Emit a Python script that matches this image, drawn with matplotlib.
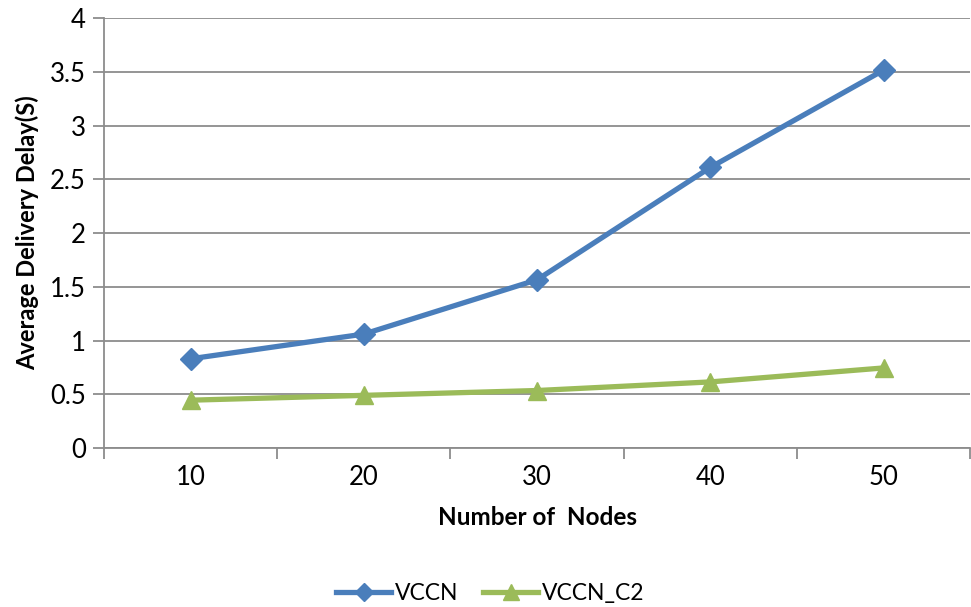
import matplotlib.pyplot as plt
import numpy as np

plt.rcParams['font.family'] = ['Lato', 'DejaVu Sans']

nodes = ['10', '20', '30', '40', '50']
vccn = [0.83, 1.06, 1.565, 2.61, 3.515]
vccn_c2 = [0.445, 0.49, 0.535, 0.615, 0.745]

blue = '#4A7EBB'
green = '#9BBB59'
grid_col = '#8C8C8C'

fig = plt.figure(figsize=(9.71, 6.07), dpi=100)
ax = fig.add_axes([0.1071, 0.2619, 0.892, 0.7084])

x = np.arange(len(nodes))
ax.plot(x, vccn, color=blue, lw=3.8, marker='D', ms=11, label='VCCN')
ax.plot(x, vccn_c2, color=green, lw=3.8, marker='^', ms=13, label='VCCN_C2')

ax.set_ylim(0, 4)
ax.set_yticks(np.arange(0, 4.01, 0.5))
ax.set_yticklabels(['0', '0.5', '1', '1.5', '2', '2.5', '3', '3.5', '4'])
ax.yaxis.grid(True, color=grid_col, lw=1.3)
ax.set_axisbelow(True)

# category axis: ticks between categories, labels at centers
ax.set_xlim(-0.5, len(nodes) - 0.5)
ax.set_xticks(np.arange(-0.5, len(nodes)))
ax.set_xticklabels([])
ax.set_xticks(x, minor=True)
ax.set_xticklabels(nodes, minor=True)
ax.tick_params(axis='x', which='minor', length=0, pad=12, labelsize=18.5)
ax.tick_params(axis='x', which='major', length=8, width=1.3, color=grid_col)
ax.tick_params(axis='y', length=8, width=1.3, color=grid_col, labelsize=18.5, pad=5)

for side in ['top', 'right']:
    ax.spines[side].set_visible(False)
for side in ['left', 'bottom']:
    ax.spines[side].set_color(grid_col)
    ax.spines[side].set_linewidth(1.3)

ax.set_xlabel('Number of  Nodes', fontsize=17.5, fontweight='bold', labelpad=12)
ax.set_ylabel('Average Delivery Delay(S)', fontsize=17, fontweight='bold', labelpad=8)

fig.legend(loc='center', bbox_to_anchor=(0.505, 0.022), ncol=2, frameon=False,
           fontsize=16.5, handlelength=2.4, columnspacing=1.1, handletextpad=0.15,
           markerscale=0.85)

fig.savefig('out.png', dpi=100)
